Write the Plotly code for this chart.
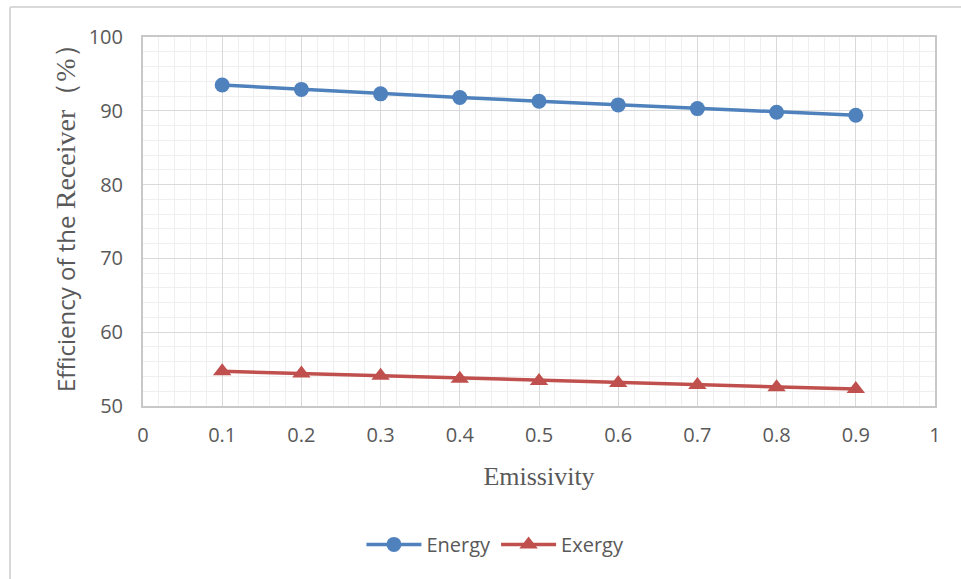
import plotly.graph_objects as go

# Emissivity sweep and receiver efficiencies (%)
emissivity = [0.1, 0.2, 0.3, 0.4, 0.5, 0.6, 0.7, 0.8, 0.9]
energy_eff = [93.5, 92.9, 92.3, 91.8, 91.3, 90.8, 90.3, 89.8, 89.4]
exergy_eff = [54.7, 54.4, 54.1, 53.7, 53.4, 53.1, 52.85, 52.55, 52.3]

x_ticks = [0, 0.1, 0.2, 0.3, 0.4, 0.5, 0.6, 0.7, 0.8, 0.9, 1]
x_tick_text = ["0", "0.1", "0.2", "0.3", "0.4", "0.5", "0.6", "0.7", "0.8", "0.9", "1"]
y_ticks = [50, 60, 70, 80, 90, 100]

W, H = 961, 579
ML, MR, MT, MB = 143, 26, 37, 173
pw, ph = W - ML - MR, H - MT - MB

SANS = "Open Sans, Noto Sans, sans-serif"
SERIF = "Liberation Serif, Times New Roman, serif"
GREY = "#595959"

tick_font = dict(family=SANS, size=20, color=GREY)

y_title = ("Efficiency of the "
           "<span style='font-family:Liberation Serif, serif; font-size:28px'>"
           "Receiver（%）</span>")

fig = go.Figure()
fig.add_trace(go.Scatter(
    x=emissivity, y=energy_eff, name="Energy", mode="lines+markers",
    line=dict(color="#4f81bd", width=3.5),
    marker=dict(symbol="circle", size=15, color="#4f81bd"),
))
fig.add_trace(go.Scatter(
    x=emissivity, y=exergy_eff, name="Exergy", mode="lines+markers",
    line=dict(color="#c0504d", width=3.5),
    marker=dict(symbol="triangle-up", size=16, color="#c0504d"),
))

fig.update_xaxes(
    range=[0, 1], tickvals=x_ticks, ticktext=x_tick_text,
    showgrid=True, gridcolor="#d9d9d9", gridwidth=1,
    minor=dict(dtick=0.02, showgrid=True, gridcolor="#efefef", gridwidth=1),
    showline=True, linecolor="#c8c8c8", linewidth=2, mirror=True,
    zeroline=False, ticks="", tickfont=tick_font, ticklabelstandoff=10,
    title=dict(text="Emissivity", font=dict(family=SERIF, size=26, color=GREY), standoff=20),
)
fig.update_yaxes(
    range=[50, 100], tickvals=y_ticks,
    showgrid=True, gridcolor="#d9d9d9", gridwidth=1,
    minor=dict(dtick=2, showgrid=True, gridcolor="#efefef", gridwidth=1),
    showline=True, linecolor="#c8c8c8", linewidth=2, mirror=True,
    zeroline=False, ticks="", tickfont=tick_font, ticklabelstandoff=14,
)

# y-axis title placed as a rotated annotation, slightly above the plot's centre
fig.add_annotation(
    text=y_title, textangle=-90, showarrow=False,
    xref="paper", yref="paper",
    x=(65 - ML) / pw, y=1 - (211 - MT) / ph,
    xanchor="center", yanchor="middle",
    font=dict(family=SANS, size=24, color=GREY),
)

# outer chart frame (top and left edges)
fig.add_shape(type="line", xref="paper", yref="paper",
              x0=(10 - ML) / pw, x1=1 + MR / pw,
              y0=1 + (MT - 7) / ph, y1=1 + (MT - 7) / ph,
              line=dict(color="#d9d9d9", width=2))
fig.add_shape(type="line", xref="paper", yref="paper",
              x0=(10 - ML) / pw, x1=(10 - ML) / pw,
              y0=-MB / ph, y1=1 + (MT - 7) / ph,
              line=dict(color="#d9d9d9", width=2))

fig.update_layout(
    width=W, height=H,
    margin=dict(l=ML, r=MR, t=MT, b=MB),
    paper_bgcolor="white", plot_bgcolor="white",
    showlegend=True,
    legend=dict(orientation="h", x=0.445, xanchor="center", y=-0.375, yanchor="middle",
                font=dict(family=SANS, size=20, color=GREY),
                itemwidth=55, bgcolor="rgba(0,0,0,0)"),
)

fig.write_html("out.html")
